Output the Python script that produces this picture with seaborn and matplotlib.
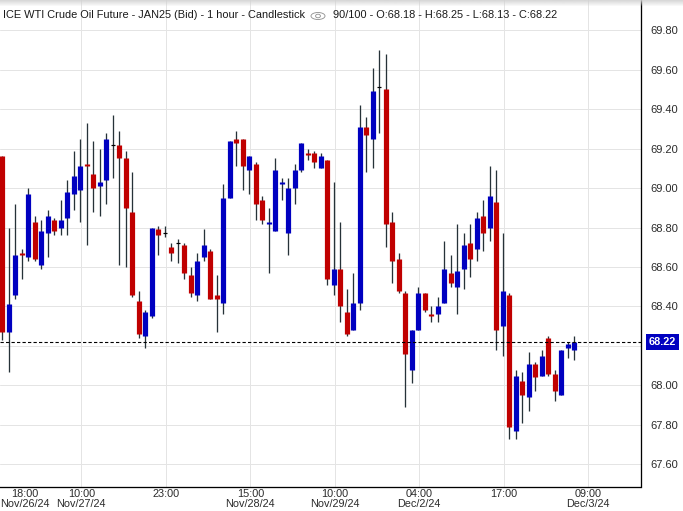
import matplotlib
matplotlib.use("Agg")
import matplotlib.pyplot as plt
import numpy as np
import pandas as pd
import seaborn as sns
from matplotlib.patches import Circle, Ellipse

opens = [69.16, 68.27, 68.46, 68.67, 68.65, 68.83, 68.61, 68.77, 68.84, 68.80,
         68.85, 68.97, 68.99, 69.12, 69.07, 69.01, 69.04, 69.22, 69.22, 69.15,
         68.88, 68.43, 68.25, 68.35, 68.79, 68.77, 68.70, 68.72, 68.71, 68.56,
         68.46, 68.65, 68.68, 68.46, 68.42, 68.95, 69.25, 69.25, 69.09, 69.12,
         68.94, 68.82, 68.78, 69.02, 68.77, 69.00, 69.09, 69.18, 69.18, 69.10,
         69.14, 68.51, 68.59, 68.37, 68.28, 68.42, 69.31, 69.25, 69.51, 69.50,
         68.83, 68.64, 68.47, 68.08, 68.28, 68.47, 68.36, 68.36, 68.42, 68.57,
         68.50, 68.59, 68.72, 68.69, 68.86, 68.80, 68.93, 68.30, 68.46, 67.77,
         68.02, 67.94, 68.11, 68.05, 68.24, 68.06, 67.95, 68.19, 68.18]
closes = [68.27, 68.41, 68.66, 68.66, 68.97, 68.64, 68.78, 68.86, 68.78, 68.84,
          68.98, 69.06, 69.11, 69.11, 69.00, 69.03, 69.25, 69.22, 69.15, 68.90,
          68.46, 68.26, 68.37, 68.80, 68.76, 68.77, 68.67, 68.72, 68.57, 68.47,
          68.63, 68.71, 68.44, 68.44, 68.95, 69.24, 69.23, 69.11, 69.16, 68.92,
          68.84, 68.83, 69.09, 69.03, 69.00, 69.09, 69.23, 69.17, 69.13, 69.16,
          68.54, 68.59, 68.40, 68.26, 68.42, 69.31, 69.27, 69.49, 69.51, 68.82,
          68.63, 68.48, 68.16, 68.28, 68.47, 68.38, 68.35, 68.40, 68.59, 68.52,
          68.58, 68.71, 68.64, 68.85, 68.77, 68.96, 68.28, 68.48, 67.79, 68.05,
          67.95, 68.11, 68.04, 68.15, 68.06, 67.97, 68.18, 68.21, 68.22]
highs = [69.16, 68.80, 68.92, 68.69, 69.00, 68.86, 68.84, 68.89, 68.85, 68.94,
         69.04, 69.19, 69.25, 69.33, 69.24, 69.20, 69.28, 69.37, 69.29, 69.19,
         69.08, 68.48, 68.38, 68.80, 68.81, 68.81, 68.72, 68.74, 68.72, 68.60,
         68.67, 68.79, 68.69, 68.56, 69.02, 69.24, 69.29, 69.25, 69.16, 69.13,
         68.96, 68.90, 69.15, 69.05, 69.05, 69.12, 69.23, 69.20, 69.19, 69.18,
         69.14, 69.03, 68.83, 68.49, 68.57, 69.42, 69.36, 69.61, 69.70, 69.68,
         68.88, 68.67, 68.48, 68.28, 68.50, 68.47, 68.40, 68.45, 68.73, 68.66,
         68.82, 68.77, 68.82, 68.88, 68.94, 69.11, 69.09, 68.77, 68.47, 68.08,
         68.07, 68.17, 68.12, 68.18, 68.25, 68.08, 68.18, 68.22, 68.25]
lows = [68.23, 68.07, 68.44, 68.54, 68.63, 68.63, 68.59, 68.65, 68.76, 68.76,
        68.76, 68.89, 68.83, 68.71, 68.88, 68.86, 68.92, 69.05, 68.61, 68.60,
        68.45, 68.24, 68.19, 68.34, 68.66, 68.75, 68.63, 68.62, 68.54, 68.45,
        68.43, 68.63, 68.44, 68.27, 68.36, 68.95, 69.11, 68.99, 68.97, 68.84,
        68.82, 68.57, 68.78, 68.94, 68.66, 68.92, 69.08, 69.14, 69.10, 69.10,
        68.51, 68.46, 68.32, 68.25, 68.28, 68.38, 69.08, 69.10, 69.28, 68.70,
        68.52, 68.47, 67.89, 68.01, 68.28, 68.37, 68.32, 68.32, 68.42, 68.50,
        68.36, 68.49, 68.55, 68.63, 68.68, 68.73, 68.18, 68.15, 67.73, 67.73,
        67.81, 67.87, 67.97, 68.05, 68.05, 67.92, 67.95, 68.14, 68.13]

y_ticks = [67.6, 67.8, 68.0, 68.2, 68.4, 68.6, 68.8, 69.0, 69.2, 69.4, 69.6, 69.8]
x_tick_pos = [3.4, 12.15, 25.2, 38.15, 51.2, 64.15, 77.2, 90.15]
x_tick_labels = ["18:00\nNov/26/24", "10:00\nNov/27/24", "23:00", "15:00\nNov/28/24",
                 "10:00\nNov/29/24", "04:00\nDec/2/24", "17:00", "09:00\nDec/3/24"]
last_price = 68.22
title_left = "ICE WTI Crude Oil Future - JAN25 (Bid) - 1 hour - Candlestick"
title_right = "90/100 - O:68.18 - H:68.25 - L:68.13 - C:68.22"

RED = "#c00000"
BLUE = "#0000c0"
WICK = "#263238"
PX = 72 / 100  # one pixel in points

sns.set_style("white")
plt.rcParams["font.family"] = ["Liberation Sans", "DejaVu Sans"]

df = pd.DataFrame({"bar": np.arange(len(opens)), "open": opens, "close": closes,
                   "high": highs, "low": lows})
df["dir"] = np.where(df["close"] >= df["open"], "up", "down")
is_doji = df["open"] == df["close"]

wicks = df.melt(id_vars="bar", value_vars=["high", "low"], value_name="price")
bodies = df[~is_doji].melt(id_vars=["bar", "dir"], value_vars=["open", "close"], value_name="price")

fig = plt.figure(figsize=(6.83, 5.11), dpi=100)
ax = fig.add_axes([0, 24 / 511, 640.5 / 683, 487 / 511])

sns.lineplot(data=wicks, x="bar", y="price", units="bar", estimator=None, color=WICK,
             linewidth=1.3 * PX, solid_capstyle="butt", zorder=3, ax=ax, legend=False)
sns.lineplot(data=bodies, x="bar", y="price", units="bar", estimator=None, hue="dir",
             palette={"up": BLUE, "down": RED}, linewidth=5.2 * PX, solid_capstyle="butt",
             zorder=4, ax=ax, legend=False)
sns.scatterplot(data=df[is_doji], x="bar", y="close", marker="_", s=(5 * PX) ** 2, color="black",
                linewidth=1.2 * PX, zorder=4, ax=ax, legend=False)

ax.axhline(last_price, color="black", linestyle=(0, (3, 2)), linewidth=1.1 * PX, zorder=5)

ax.set_xlim(-0.36, 98.18)
ax.set_ylim(67.485, 69.953)
ax.set_xlabel("")
ax.set_ylabel("")

# the 68.20 label sits behind the price box, so it stays empty
ax.yaxis.tick_right()
ax.set_yticks(y_ticks)
ax.set_yticklabels(["" if v == 68.2 else f"{v:.2f}" for v in y_ticks])
ax.set_xticks(x_tick_pos)
ax.set_xticklabels(x_tick_labels, linespacing=1.0)
ax.tick_params(axis="both", length=0, labelcolor="#2b2b2b")
ax.tick_params(axis="y", pad=7, labelsize=8.0)
ax.tick_params(axis="x", pad=1.5, labelsize=7.8)

ax.grid(True, color="#e4e4e4", linewidth=1.0 * PX, zorder=0)
ax.set_axisbelow(True)
ax.get_xgridlines()[0].set_visible(False)

for side in ["top", "left"]:
    ax.spines[side].set_visible(False)
for side in ["right", "bottom"]:
    ax.spines[side].set_color("black")
    ax.spines[side].set_linewidth(1.3 * PX)

# soft shadow along the top edge
band = fig.add_axes([0, 1 - 7 / 511, 1, 7 / 511], zorder=6)
band.imshow(np.full((7, 1), 0.82), cmap="gray", vmin=0, vmax=1, aspect="auto",
            alpha=np.linspace(1.0, 0.0, 7).reshape(-1, 1))
band.axis("off")

# header text and the small eye icon
fig.text(3 / 683, 1 - 15.5 / 511, title_left, fontsize=7.9, color="#1a1a1a", va="center", ha="left")
fig.text(333 / 683, 1 - 15.5 / 511, title_right, fontsize=7.9, color="#1a1a1a", va="center", ha="left")
eye_x, eye_y = 318 / 683, 1 - 16 / 511
fig.add_artist(Ellipse((eye_x, eye_y), 14 / 683, 7 / 511, transform=fig.transFigure, fill=False,
                       edgecolor="#8c8c8c", linewidth=0.6))
fig.add_artist(Circle((eye_x, eye_y), 2.4 / 683, transform=fig.transFigure, fill=False,
                      edgecolor="#8c8c8c", linewidth=0.6))

# current price box on the right scale
ax.annotate(f"{last_price:.2f}", xy=(662.5 / 683, last_price), xycoords=("figure fraction", "data"),
            ha="center", va="center", fontsize=7.8, fontweight="bold", color="white",
            annotation_clip=False,
            bbox=dict(boxstyle="square,pad=0.25", facecolor=BLUE, edgecolor=BLUE, linewidth=0))

fig.savefig("out.png", dpi=100)
